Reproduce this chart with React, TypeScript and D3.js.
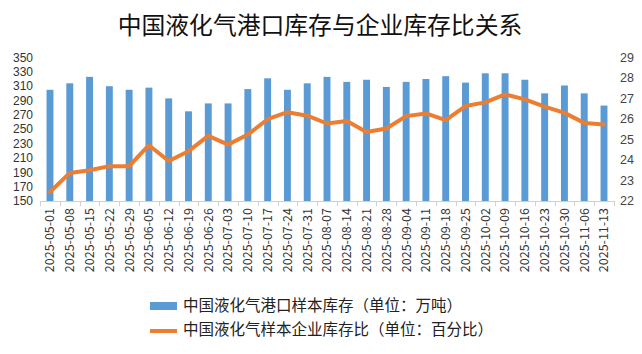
import React, { useEffect, useRef } from 'react';
import * as d3 from 'd3';

const dates = [
  '2025-05-01', '2025-05-08', '2025-05-15', '2025-05-22', '2025-05-29',
  '2025-06-05', '2025-06-12', '2025-06-19', '2025-06-26',
  '2025-07-03', '2025-07-10', '2025-07-17', '2025-07-24', '2025-07-31',
  '2025-08-07', '2025-08-14', '2025-08-21', '2025-08-28',
  '2025-09-04', '2025-09-11', '2025-09-18', '2025-09-25',
  '2025-10-02', '2025-10-09', '2025-10-16', '2025-10-23', '2025-10-30',
  '2025-11-06', '2025-11-13',
];

// port inventory (10k tonnes)
const portStock = [
  305, 314, 323, 310, 305, 308, 293, 275, 286, 286, 306, 321, 305, 314,
  323, 316, 319, 309, 316, 320, 324, 315, 328, 328, 319, 300, 311, 300, 283,
];

// enterprise inventory ratio (%)
const stockRatio = [
  22.44, 23.37, 23.5, 23.7, 23.7, 24.72, 23.95, 24.43, 25.18, 24.75, 25.24, 25.99, 26.33, 26.16,
  25.78, 25.9, 25.37, 25.54, 26.14, 26.27, 25.94, 26.63, 26.81, 27.2, 26.96, 26.6, 26.3, 25.81, 25.73,
];

const leftTicks = [150, 170, 190, 210, 230, 250, 270, 290, 310, 330, 350];
const rightTicks = [22, 23, 24, 25, 26, 27, 28, 29];

const title = '中国液化气港口库存与企业库存比关系';
const legendBar = '中国液化气港口样本库存（单位：万吨）';
const legendLine = '中国液化气样本企业库存比（单位：百分比）';

const W = 642;
const H = 354;
const FONT = '"Noto Sans CJK SC", "Noto Sans", sans-serif';
const NUM_FONT = '"Liberation Sans", Arial, sans-serif';

export default function App() {
  const svgRef = useRef<SVGSVGElement>(null);

  useEffect(() => {
    document.body.style.margin = '0';
    const svg = d3.select(svgRef.current);
    svg.selectAll('*').remove();

    const plot = { left: 40, right: 614, top: 57.5, bottom: 201 };

    const x = d3.scaleBand<string>().domain(dates).range([plot.left, plot.right]).paddingInner(0.65).paddingOuter(0.33);
    const yL = d3.scaleLinear().domain([150, 350]).range([plot.bottom, plot.top]);
    const yR = d3.scaleLinear().domain([22, 29]).range([plot.bottom, plot.top]);
    const step = (plot.right - plot.left) / dates.length;
    const cx = (d: string) => (x(d) as number) + x.bandwidth() / 2;

    svg.append('rect').attr('width', W).attr('height', H).attr('fill', '#fff');

    svg.append('text')
      .attr('x', 320).attr('y', 26).attr('dy', '0.35em')
      .attr('text-anchor', 'middle').attr('font-family', FONT)
      .attr('font-size', 23.8).attr('fill', '#111').text(title);

    // bars
    svg.append('g').selectAll('rect').data(dates).enter().append('rect')
      .attr('x', d => x(d) as number)
      .attr('width', x.bandwidth())
      .attr('y', (d, i) => yL(portStock[i]))
      .attr('height', (d, i) => plot.bottom - yL(portStock[i]))
      .attr('fill', '#5B9BD5');

    // x axis
    const ax = svg.append('g');
    ax.append('line').attr('x1', plot.left).attr('x2', plot.right)
      .attr('y1', plot.bottom + 0.5).attr('y2', plot.bottom + 0.5)
      .attr('stroke', '#d0d0d0');
    d3.range(dates.length + 1).forEach(i => {
      const px = Math.round(plot.left + i * step) + 0.5;
      ax.append('line').attr('x1', px).attr('x2', px)
        .attr('y1', plot.bottom).attr('y2', plot.bottom + 5).attr('stroke', '#d0d0d0');
    });
    ax.selectAll('text.xl').data(dates).enter().append('text')
      .attr('class', 'xl')
      .attr('transform', d => `translate(${cx(d)},${plot.bottom + 7}) rotate(-90)`)
      .attr('dy', '0.35em').attr('text-anchor', 'end')
      .attr('font-family', FONT).attr('font-size', 12.5).attr('fill', '#333')
      .text(d => d);

    // left axis labels
    svg.append('g').selectAll('text').data(leftTicks).enter().append('text')
      .attr('x', 33).attr('y', d => yL(d)).attr('dy', '0.35em')
      .attr('text-anchor', 'end').attr('font-family', NUM_FONT)
      .attr('font-size', 12).attr('fill', '#333').text(d => d);

    // right axis labels
    svg.append('g').selectAll('text').data(rightTicks).enter().append('text')
      .attr('x', 620).attr('y', d => yR(d)).attr('dy', '0.35em')
      .attr('text-anchor', 'start').attr('font-family', NUM_FONT)
      .attr('font-size', 12.5).attr('fill', '#444').text(d => d);

    // ratio line
    const line = d3.line<number>()
      .x((d, i) => cx(dates[i]))
      .y(d => yR(d));
    svg.append('path').datum(stockRatio)
      .attr('d', line).attr('fill', 'none')
      .attr('stroke', '#ED7D31').attr('stroke-width', 4)
      .attr('stroke-linejoin', 'round').attr('stroke-linecap', 'round');

    // legend
    const lg = svg.append('g').attr('font-family', FONT).attr('font-size', 15.5).attr('fill', '#222');
    lg.append('rect').attr('x', 150).attr('y', 302).attr('width', 27).attr('height', 8).attr('fill', '#5B9BD5');
    lg.append('text').attr('x', 183).attr('y', 306).attr('dy', '0.35em').text(legendBar);
    lg.append('line').attr('x1', 150).attr('x2', 177).attr('y1', 331).attr('y2', 331)
      .attr('stroke', '#ED7D31').attr('stroke-width', 4);
    lg.append('text').attr('x', 183).attr('y', 330).attr('dy', '0.35em').text(legendLine);
  }, []);

  return <svg ref={svgRef} width={W} height={H} style={{ display: 'block' }} />;
}
